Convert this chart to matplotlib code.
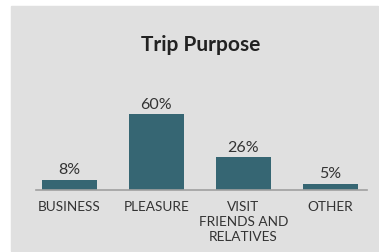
import matplotlib.pyplot as plt
from matplotlib.patches import Rectangle

# Trip purpose shares
categories = ["BUSINESS", "PLEASURE", "VISIT\nFRIENDS AND\nRELATIVES", "OTHER"]
shares = [8, 60, 26, 5]
labels = ["8%", "60%", "26%", "5%"]

plt.rcParams['font.family'] = ['Lato', 'DejaVu Sans']
textColor = "#333333"
barColor = "#366673"
bgColor = "#e0e0e0"

W, H = 379, 253
fig = plt.figure(figsize=(W / 100, H / 100), dpi=100)
fig.patches.append(Rectangle((11 / W, 1 / H), 367 / W, 245 / H,
                             transform=fig.transFigure, color=bgColor, zorder=-5))

ax = fig.add_axes([36 / W, 62 / H, 331 / W, 76 / H])
ax.set_facecolor("none")
x = list(range(len(categories)))
bars = ax.bar(x, shares, width=0.63, color=barColor, zorder=2)
ax.set_xlim(-0.38, 3.42)
ax.set_ylim(0, 60)

for b, lab in zip(bars, labels):
  ax.annotate(lab, (b.get_x() + b.get_width() / 2, b.get_height()),
              xytext=(0, 2.5), textcoords="offset points",
              ha="center", va="bottom", fontsize=11.5, color=textColor,
              annotation_clip=False)

ax.set_xticks(x)
ax.set_xticklabels(categories, fontsize=9.8, color=textColor, linespacing=1.3)
ax.tick_params(axis="x", length=0, pad=7)
ax.set_yticks([])
for s in ["top", "right", "left"]:
  ax.spines[s].set_visible(False)
ax.spines["bottom"].set_color("#a0a0a0")
ax.spines["bottom"].set_linewidth(1.2)

fig.text(201 / W, 1 - 45 / H, "Trip Purpose", ha="center", va="center",
         fontsize=15, fontweight="bold", color="#222222")

fig.savefig("out.png", dpi=100)
